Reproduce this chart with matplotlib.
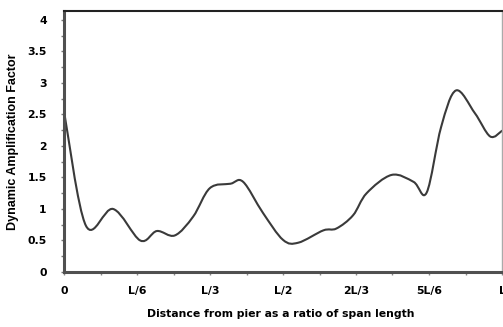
import matplotlib
matplotlib.use("Agg")
import matplotlib.pyplot as plt
import numpy as np
from matplotlib.path import Path
from matplotlib.patches import PathPatch
from matplotlib.ticker import MultipleLocator, FixedLocator

# Dynamic amplification factor along the span (x as a fraction of span length L)
position = [0.0, 0.050, 0.112, 0.174, 0.212, 0.253, 0.295, 0.333, 0.380, 0.409,
            0.454, 0.500, 0.535, 0.592, 0.622, 0.660, 0.691, 0.748, 0.798, 0.828,
            0.861, 0.895, 0.938, 0.973, 1.0]
daf = [2.55, 0.735, 1.00, 0.50, 0.65, 0.58, 0.88, 1.33, 1.40, 1.43,
       0.94, 0.51, 0.465, 0.66, 0.69, 0.90, 1.25, 1.54, 1.43, 1.26,
       2.30, 2.88, 2.52, 2.15, 2.24]

tick_positions = [0, 1 / 6, 1 / 3, 1 / 2, 2 / 3, 5 / 6, 1]
tick_labels = ["0", "L/6", "L/3", "L/2", "2L/3", "5L/6", "L"]
y_ticks = [0, 0.5, 1, 1.5, 2, 2.5, 3, 3.5, 4]
y_labels = ["0", "0.5", "1", "1.5", "2", "2.5", "3", "3.5", "4"]

TICK_FONT = dict(fontfamily="DejaVu Sans", fontweight="bold", fontsize=7.8)
LINE_COLOR = "#3a3a3a"


def smooth_path(xs, ys):
    """Smoothed line through the points, built from cubic Bezier segments."""
    pts = np.column_stack([xs, ys])
    padded = np.vstack([pts[0], pts, pts[-1]])
    verts = [pts[0]]
    codes = [Path.MOVETO]
    for i in range(1, len(padded) - 2):
        p0, p1, p2, p3 = padded[i - 1], padded[i], padded[i + 1], padded[i + 2]
        c1 = p1 + (p2 - p0) / 6.0
        c2 = p2 - (p3 - p1) / 6.0
        verts += [c1, c2, p2]
        codes += [Path.CURVE4] * 3
    return Path(verts, codes)


fig = plt.figure(figsize=(5.03, 3.27), dpi=100)
ax = fig.add_axes([64 / 503, 1 - 272 / 327, 438 / 503, 261 / 327])

ax.add_patch(PathPatch(smooth_path(position, daf), facecolor="none",
                       edgecolor=LINE_COLOR, linewidth=1.5, capstyle="round"))

ax.set_xlim(0, 1)
ax.set_ylim(0, 4.14)

ax.xaxis.set_major_locator(FixedLocator(tick_positions))
ax.xaxis.set_minor_locator(MultipleLocator(1 / 12))
ax.set_xticklabels(tick_labels, **TICK_FONT)
ax.yaxis.set_major_locator(FixedLocator(y_ticks))
ax.yaxis.set_minor_locator(MultipleLocator(0.25))
ax.set_yticklabels(y_labels, **TICK_FONT)

ax.tick_params(axis="x", which="both", direction="out", length=2, width=1,
               color="#888888", pad=8)
ax.tick_params(axis="y", which="both", direction="out", length=2.5, width=1,
               color="#777777", pad=10, right=True)

for side, lw, col in [("left", 2.2, "#505050"), ("bottom", 2.2, "#505050"),
                      ("top", 1.5, "#222222"), ("right", 1.0, "#aaaaaa")]:
    ax.spines[side].set_linewidth(lw)
    ax.spines[side].set_color(col)

ax.set_xlabel("Distance from pier as a ratio of span length", **TICK_FONT)
ax.xaxis.set_label_coords(0.495, -0.14)
ax.set_ylabel("Dynamic Amplification Factor",
              fontfamily="Liberation Sans", fontweight="bold", fontsize=9)
ax.yaxis.set_label_coords(-0.103, 0.50)

fig.savefig("out.png", dpi=100)
